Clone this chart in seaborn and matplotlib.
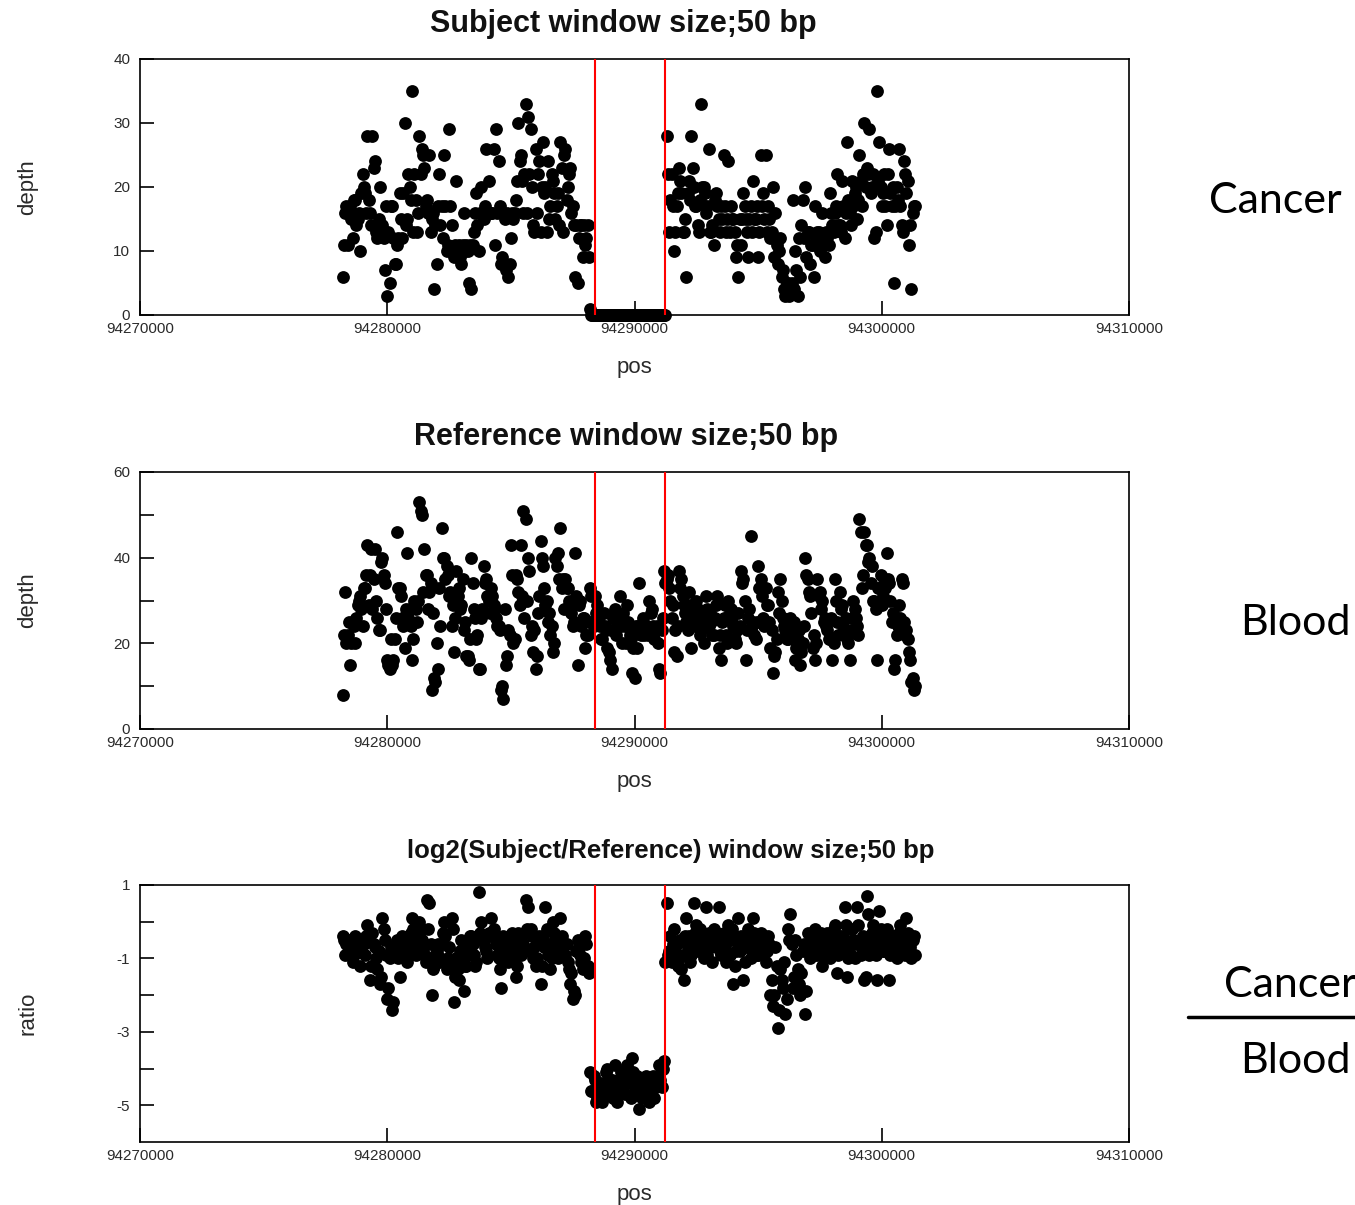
import numpy as np
import pandas as pd
import matplotlib
matplotlib.use("Agg")
import matplotlib.pyplot as plt
import seaborn as sns

# ---------------- data ----------------
# 50 bp windows; listed as two interleaved sets (window starts and window starts + 50)
window_start = 94278200
window_end = 94301300
window_step = 100
window_half = 50
pos_a = np.arange(window_start, window_end + 1, window_step)
pos_b = pos_a + window_half

subject_depth_a = [
    6, 16, 11, 17, 12, 18, 15, 10, 22, 19,
    28, 16, 28, 24, 12, 20, 14, 7, 3, 5,
    17, 8, 11, 19, 12, 30, 15, 20, 35, 22,
    13, 28, 26, 23, 18, 25, 15, 4, 8, 22,
    17, 25, 10, 29, 14, 9, 21, 11, 8, 16,
    11, 5, 4, 13, 19, 10, 20, 15, 26, 21,
    16, 26, 29, 24, 8, 16, 7, 6, 12, 15,
    18, 30, 25, 16, 33, 31, 29, 14, 26, 22,
    13, 27, 20, 24, 17, 21, 15, 19, 27, 13,
    26, 20, 23, 17, 6, 5, 14, 9, 11, 14,
    1, 0, 0, 0, 0, 0, 0, 0, 0, 0, 0, 0, 0, 0, 0, 0,
    0, 0, 0, 0, 0, 0, 0, 0, 0, 0, 0, 0, 0, 0, 0,
    28, 13, 22, 10, 17, 23, 19, 13, 6, 21,
    28, 20, 17, 13, 33, 20, 16, 26, 13, 11,
    19, 15, 17, 25, 13, 24, 17, 15, 9, 6,
    11, 19, 15, 9, 17, 21, 15, 9, 25, 19,
    25, 17, 12, 20, 16, 8, 12, 7, 3, 5,
    4, 18, 10, 3, 6, 18, 20, 13, 8, 11,
    17, 13, 10, 16, 9, 12, 19, 14, 16, 22,
    14, 21, 12, 27, 16, 21, 19, 15, 25, 17,
    30, 23, 29, 20, 12, 35, 27, 17, 22, 14,
    26, 17, 5, 20, 26, 14, 24, 19, 11, 4, 17,
]
subject_depth_b = [
    11, 17, 16, 15, 18, 14, 16, 19, 20, 16,
    18, 14, 23, 13, 15, 13, 12, 17, 13, 17,
    12, 8, 12, 15, 19, 14, 22, 18, 13, 18,
    16, 22, 25, 17, 16, 13, 16, 14, 17, 14,
    12, 17, 11, 17, 10, 11, 10, 9, 11, 10,
    10, 11, 11, 16, 14, 16, 16, 17, 16, 16,
    16, 11, 16, 17, 9, 15, 16, 8, 16, 16,
    21, 24, 21, 22, 16, 22, 20, 13, 16, 24,
    20, 19, 13, 15, 22, 19, 17, 14, 23, 25,
    18, 22, 16, 14, 14, 12, 14, 14, 12, 9,
    0, 0, 0, 0, 0, 0, 0, 0, 0, 0, 0, 0, 0, 0, 0, 0,
    0, 0, 0, 0, 0, 0, 0, 0, 0, 0, 0, 0, 0, 0, 0,
    22, 18, 17, 13, 19, 21, 13, 15, 19, 18,
    23, 17, 14, 18, 20, 19, 17, 13, 14, 18,
    17, 13, 15, 17, 15, 13, 15, 13, 11, 15,
    15, 17, 13, 15, 13, 15, 17, 13, 17, 15,
    13, 15, 13, 9, 11, 10, 6, 4, 5, 3,
    5, 4, 7, 12, 14, 12, 9, 13, 11, 6,
    12, 13, 11, 12, 13, 11, 16, 13, 17, 14,
    13, 17, 16, 18, 14, 17, 20, 18, 21, 22,
    20, 22, 19, 22, 13, 21, 20, 19, 17, 22,
    19, 20, 17, 18, 17, 13, 22, 21, 14, 16, 17,
]

reference_depth_a = [
    8, 32, 22, 15, 25, 20, 29, 31, 24, 33,
    43, 36, 28, 42, 26, 23, 40, 34, 16, 14,
    15, 21, 46, 33, 26, 19, 41, 28, 16, 30,
    25, 53, 50, 42, 36, 32, 9, 12, 20, 33,
    47, 40, 38, 31, 24, 18, 37, 33, 29, 23,
    17, 16, 40, 28, 21, 14, 26, 38, 35, 30,
    33, 29, 26, 24, 9, 7, 15, 23, 43, 20,
    36, 32, 43, 51, 49, 40, 22, 18, 14, 27,
    44, 38, 29, 25, 22, 18, 40, 41, 47, 35,
    35, 33, 28, 24, 41, 15, 30, 26, 19, 22,
    33, 25, 31, 29, 24, 21, 24, 19, 16, 14, 28, 24, 31, 20, 24, 29,
    22, 13, 12, 19, 34, 24, 22, 24, 30, 28, 21, 24, 14, 23, 37,
    35, 33, 26, 18, 17, 37, 35, 29, 25, 32,
    19, 28, 30, 26, 23, 20, 31, 24, 25, 22,
    29, 19, 16, 26, 22, 30, 28, 24, 20, 27,
    37, 35, 16, 26, 45, 25, 21, 38, 35, 26,
    33, 29, 19, 13, 18, 32, 35, 26, 23, 21,
    26, 23, 16, 21, 15, 20, 40, 35, 31, 19,
    16, 35, 32, 30, 26, 23, 21, 16, 35, 25,
    32, 29, 23, 21, 16, 26, 28, 24, 49, 33,
    46, 43, 40, 38, 30, 16, 33, 29, 35, 41,
    34, 25, 14, 22, 29, 35, 25, 23, 18, 11, 9,
]
reference_depth_b = [
    22, 20, 25, 20, 24, 26, 30, 28, 33, 36,
    29, 42, 35, 30, 23, 39, 36, 28, 15, 21,
    16, 26, 33, 31, 24, 28, 26, 24, 21, 28,
    30, 51, 32, 36, 28, 34, 27, 11, 14, 24,
    40, 35, 36, 32, 29, 26, 31, 28, 35, 25,
    17, 21, 34, 26, 22, 14, 28, 34, 31, 27,
    31, 28, 24, 23, 10, 28, 17, 22, 36, 21,
    35, 29, 31, 26, 30, 37, 24, 23, 17, 31,
    40, 33, 30, 27, 24, 20, 38, 35, 33, 28,
    33, 30, 27, 25, 31, 29, 24, 26, 22, 25,
    31, 24, 27, 25, 21, 27, 23, 18, 23, 26, 22, 26, 24, 27, 20, 25,
    21, 19, 24, 24, 22, 26, 24, 22, 27, 24, 23, 20, 13, 26, 34,
    36, 30, 29, 23, 24, 33, 31, 27, 23, 29,
    26, 24, 28, 22, 26, 24, 28, 27, 22, 26,
    31, 22, 25, 29, 20, 27, 25, 21, 23, 24,
    34, 30, 23, 28, 24, 22, 25, 33, 31, 24,
    29, 25, 23, 17, 21, 27, 30, 24, 21, 25,
    22, 25, 19, 23, 18, 24, 36, 32, 27, 22,
    20, 31, 28, 25, 24, 21, 26, 20, 30, 22,
    28, 24, 26, 20, 23, 30, 26, 22, 46, 36,
    43, 39, 34, 30, 28, 33, 36, 31, 33, 35,
    30, 27, 16, 24, 26, 34, 22, 21, 16, 12, 10,
]

log2_ratio_a = [
    -0.4, -0.9, -0.5, -0.6, -1.1, -0.4, -0.7, -1.2, -0.5, -0.9,
    -0.1, -1.6, -0.3, -0.7, -1.3, -1.7, 0.1, -0.5, -2.1, -1.0,
    -2.4, -0.8, -0.5, -1.5, -0.4, -0.9, -1.1, -0.5, 0.1, -0.6,
    -0.2, 0.0, -0.5, -0.9, 0.6, 0.5, -2.0, -1.2, -0.8, -1.1,
    -0.6, 0.0, -1.3, -0.7, 0.1, -2.2, -1.0, -1.6, -0.5, -1.9,
    -1.2, -0.7, -0.4, -0.9, -1.1, 0.8, 0.0, -0.5, -0.8, -0.3,
    0.1, -0.2, -0.6, -1.0, -1.8, -0.4, -0.8, -1.1, -0.5, -0.7,
    -1.5, -0.3, -0.9, -0.6, 0.6, 0.4, -0.2, -1.0, -1.2, -0.6,
    -1.7, -0.4, 0.4, -0.9, -1.3, 0.0, -0.5, -1.0, 0.1, -0.6,
    -0.9, -1.1, -1.7, -2.1, -2.0, -0.5, -0.9, -1.3, -0.4, -1.2,
    -4.1, -4.6, -4.3, -4.8, -4.6, -4.9, -4.4, -4.0, -4.7, -4.3, -3.9,
    -4.9, -4.6, -4.2, -4.7, -3.9, -4.4, -3.7, -4.6, -4.2, -5.1,
    -4.8, -4.4, -4.6, -4.9, -4.4, -4.8, -4.2, -3.9, -4.5, -3.8,
    0.5, -0.8, -1.1, -0.2, -0.6, -1.0, -1.3, -1.6, 0.1, -0.4,
    -0.9, 0.5, -0.1, -0.5, -0.8, -1.0, 0.4, -0.3, -0.7, -0.2,
    -0.6, 0.4, -0.9, -0.3, -1.1, -0.1, -0.5, -1.7, -0.8, 0.1,
    -0.4, -1.6, -0.7, -0.2, -1.0, 0.1, -0.5, -0.9, -0.3, -0.6,
    -1.1, -0.4, -2.0, -2.3, -0.7, -2.9, -1.3, -1.8, -2.5, -0.2,
    0.2, -1.8, -0.5, -1.3, -2.0, -0.8, -2.5, -0.3, -1.0, -0.6,
    -0.2, -0.9, -0.5, -1.2, -0.7, -0.3, -1.0, -0.6, -0.1, -1.4,
    -0.4, -0.8, 0.4, -1.5, -0.6, -0.2, -1.0, 0.4, -0.5, -0.7,
    -1.6, 0.7, -0.9, -0.3, -0.6, -1.6, 0.3, -0.5, -0.8, -0.2,
    -1.6, -0.7, -0.4, -1.0, -0.3, -0.8, -0.5, 0.1, -0.6, -1.0, -0.4,
]
log2_ratio_b = [
    -0.5, -0.6, -0.8, -0.5, -0.9, -0.6, -0.5, -0.8, -0.6, -0.4,
    -0.4, -1.2, -0.6, -1.0, -0.8, -1.5, -0.2, -0.9, -1.8, -0.7,
    -2.2, -0.6, -1.0, -0.7, -0.6, -0.5, -0.8, -0.3, -0.2, -0.9,
    -0.5, -0.2, -0.8, -1.1, -0.2, -0.6, -1.3, -0.9, -0.6, -1.0,
    -0.3, -0.4, -1.0, -1.1, -0.2, -1.5, -1.3, -0.8, -0.9, -1.2,
    -0.9, -0.4, -0.6, -1.2, -0.5, -0.3, -0.4, -0.7, -1.0, -0.4,
    -0.3, -0.4, -0.9, -1.3, -0.7, -0.6, -0.5, -0.9, -0.3, -1.0,
    -1.2, -0.5, -0.7, -0.3, -0.2, -0.8, -0.4, -0.7, -1.0, -0.4,
    -1.2, -0.7, -0.2, -0.6, -1.0, -0.3, -0.8, -0.7, -0.4, -0.9,
    -0.6, -1.3, -1.4, -1.9, -0.8, -0.7, -1.1, -1.0, -0.6, -1.4,
    -4.6, -4.2, -4.9, -4.5, -4.4, -4.7, -4.1, -4.5, -4.3, -4.8,
    -4.5, -4.3, -4.1, -4.6, -4.4, -4.2, -4.8, -4.1, -4.4, -4.6,
    -4.7, -4.5, -4.2, -4.5, -4.6, -4.2, -4.5, -4.4, -4.3, -4.0, -1.1,
    -0.9, -0.4, -0.6, -0.8, -1.2, -0.5, -0.9, -0.4, -0.7, -1.1,
    -0.6, -0.3, -0.8, -0.2, -0.6, -0.4, -0.9, -0.5, -1.1, -0.6,
    -0.3, -0.8, -0.5, -0.7, -0.4, -0.9, -0.2, -1.2, -0.5, -0.8,
    -0.7, -1.1, -0.4, -0.6, -0.8, -0.3, -0.9, -0.6, -0.4, -0.8,
    -0.8, -0.6, -1.6, -2.0, -1.2, -2.4, -1.6, -1.1, -2.1, -0.5,
    -0.6, -1.5, -0.9, -1.7, -1.4, -0.6, -1.9, -0.7, -0.4, -0.9,
    -0.5, -0.7, -0.3, -0.9, -0.4, -0.8, -0.6, -0.2, -0.5, -0.9,
    -0.7, -0.4, -0.1, -1.0, -0.9, -0.5, -0.6, -0.1, -0.9, -0.4,
    -1.5, 0.2, -0.6, -0.1, -0.9, -0.4, -0.2, -0.8, -0.5, -0.7,
    -0.9, -0.4, -0.8, -0.6, -0.1, -0.5, -0.9, -0.3, -0.7, -0.5, -0.9,
]

deletion_bounds = [94288400, 94291250]

x_ticks = [94270000, 94280000, 94290000, 94300000, 94310000]
x_tick_labels = ["94270000", "94280000", "94290000", "94300000", "94310000"]

titles = ["Subject window size;50 bp",
          "Reference window size;50 bp",
          "log2(Subject/Reference) window size;50 bp"]
y_labels = ["depth", "depth", "ratio"]
x_label = "pos"
side_labels = ["Cancer", "Blood"]

y_limits = [(0, 40), (0, 60), (-6, 1)]
y_major = [[0, 10, 20, 30, 40], [0, 20, 40, 60], [1, -1, -3, -5]]
y_minor = [[], [10, 30, 50], [0, -2, -4]]

# ---------------- style ----------------
sns.set_style("white")
plt.rcParams["font.family"] = ["Liberation Sans", "DejaVu Sans"]

W, H = 1355, 1205
fig = plt.figure(figsize=(W / 100, H / 100), dpi=100)

# axes rectangles in pixel coords (left, top, right, bottom)
rects = [(140, 59, 1129, 315), (140, 472, 1129, 729), (140, 885, 1129, 1142)]
title_cx = [623, 626, 671]
title_fs = [22, 22, 18.5]

series = [(subject_depth_a, subject_depth_b),
          (reference_depth_a, reference_depth_b),
          (log2_ratio_a, log2_ratio_b)]
text_col = "#2a2a2a"

for i, (l, t, r, b) in enumerate(rects):
    ax = fig.add_axes([l / W, 1 - b / H, (r - l) / W, (b - t) / H])
    va, vb = series[i]
    df = pd.concat([pd.DataFrame({"pos": pos_a, "value": va}),
                    pd.DataFrame({"pos": pos_b, "value": vb})],
                   ignore_index=True)
    sns.scatterplot(data=df, x="pos", y="value", ax=ax, color="black",
                    s=85, linewidth=0, marker="o", legend=False, zorder=2,
                    clip_on=False)
    for xb in deletion_bounds:
        ax.axvline(xb, color="red", lw=1.5, zorder=3)
    ax.set_xlim(x_ticks[0], x_ticks[-1])
    ax.set_ylim(*y_limits[i])
    ax.set_xticks(x_ticks)
    ax.set_xticklabels(x_tick_labels)
    ax.set_yticks(y_major[i])
    ax.set_yticklabels([str(v) for v in y_major[i]])
    if y_minor[i]:
        ax.set_yticks(y_minor[i], minor=True)
    ax.tick_params(axis="both", which="both", direction="in", length=10,
                   width=1.2, color="black", labelsize=11, labelcolor=text_col,
                   bottom=True, left=True, top=False, right=False)
    ax.tick_params(axis="x", pad=5)
    ax.tick_params(axis="y", pad=7)
    for sp in ax.spines.values():
        sp.set_visible(True)
        sp.set_color("black")
        sp.set_linewidth(1.2)
    ax.set_xlabel(x_label, fontsize=16, color=text_col)
    ax.xaxis.set_label_coords(0.5, -0.165)
    ax.set_ylabel(y_labels[i], fontsize=16, color=text_col)
    ax.yaxis.set_label_coords(-0.103, 0.5)
    ax.set_title(titles[i], fontsize=title_fs[i], fontweight="bold",
                 color="#111111", x=(title_cx[i] - l) / (r - l),
                 y=1 + 27 / (b - t), pad=0)

# side annotations
side_font = ["Lato", "DejaVu Sans"]
fig.text(1275 / W, 1 - 213 / H, side_labels[0], ha="center", va="baseline",
         fontsize=31, family=side_font, color="black")
fig.text(1295 / W, 1 - 635 / H, side_labels[1], ha="center", va="baseline",
         fontsize=31, family=side_font, color="black")
fig.text(1290 / W, 1 - 997 / H, side_labels[0], ha="center", va="baseline",
         fontsize=31, family=side_font, color="black")
fig.add_artist(plt.Line2D([1188 / W, 1 - 0.0001], [1 - 1017 / H, 1 - 1017 / H],
                          color="black", lw=2.5, transform=fig.transFigure))
fig.text(1295 / W, 1 - 1073 / H, side_labels[1], ha="center", va="baseline",
         fontsize=31, family=side_font, color="black")

fig.savefig("out.png", dpi=100)
